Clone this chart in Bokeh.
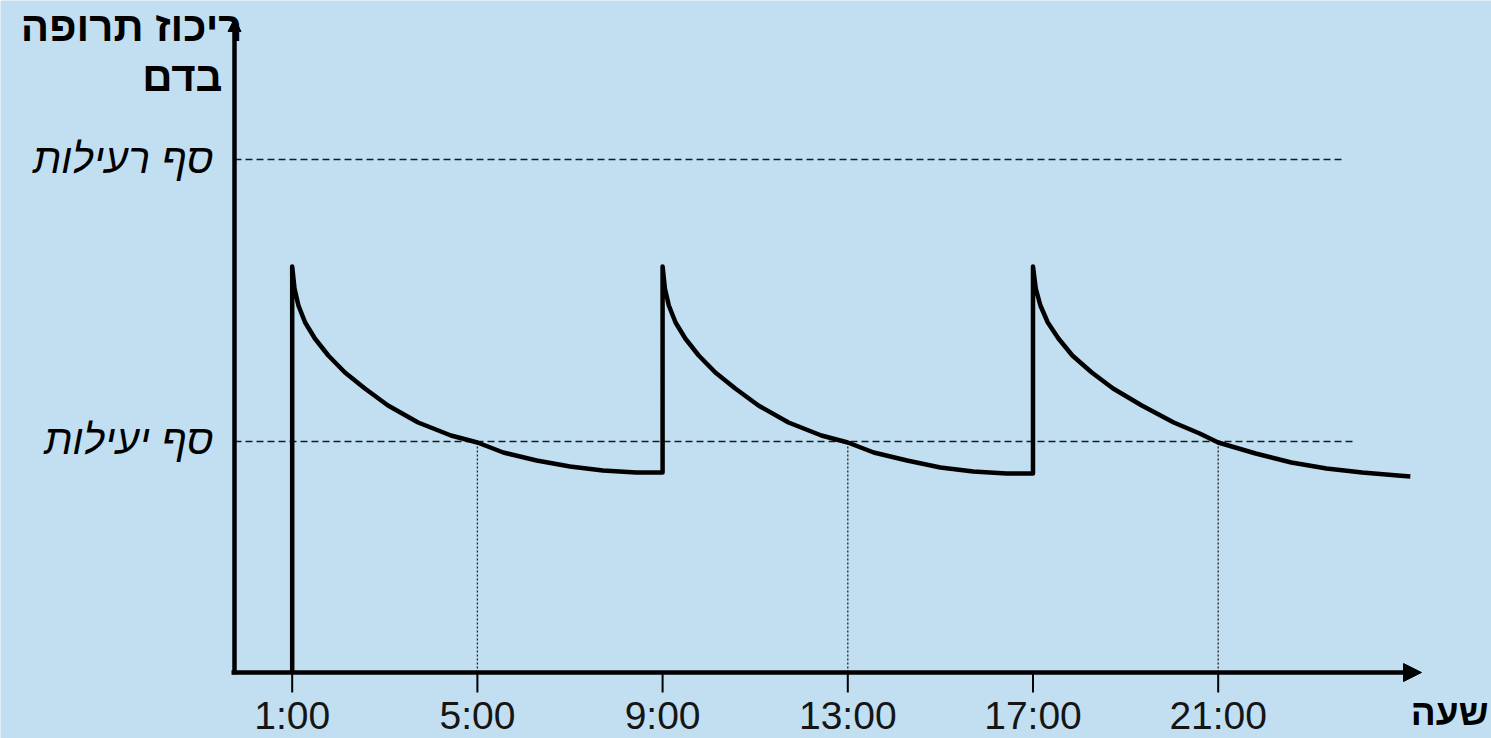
from bokeh.plotting import figure
from bokeh.models import Range1d, Arrow, NormalHead
from bokeh.core.properties import value
from bokeh.embed import file_html
from bokeh.resources import INLINE

# ---------------- data ----------------
tick_hours = [1, 5, 9, 13, 17, 21]
tick_labels = ["1:00", "5:00", "9:00", "13:00", "17:00", "21:00"]
dose_hours = [1, 9, 17]
crossing_hours = [5, 13, 21]
toxic_level = 513
effective_level = 231

hours_after_dose_1 = [0, 0.05, 0.135, 0.28, 0.49, 0.78, 1.14, 1.57, 2.07, 2.72, 3.43, 4.0, 4.56, 5.28, 6.0, 6.71, 7.43, 8.0]
conc_1 = [406, 384, 367, 350, 334, 317, 300, 284, 267, 250, 237, 230, 220, 212, 206, 202, 200, 200]
hours_after_dose_2 = [0, 0.05, 0.135, 0.28, 0.49, 0.78, 1.14, 1.57, 2.07, 2.72, 3.43, 4.0, 4.56, 5.28, 6.0, 6.71, 7.43, 8.0]
conc_2 = [406, 384, 367, 350, 334, 317, 300, 284, 267, 250, 237, 230, 220, 212, 205, 201, 199, 199]
hours_after_dose_3 = [0, 0.06, 0.16, 0.32, 0.55, 0.85, 1.27, 1.73, 2.35, 3.04, 3.6, 4.0, 4.81, 5.58, 6.34, 7.11, 7.88, 8.15]
conc_3 = [406, 384, 367, 350, 334, 317, 300, 284, 267, 250, 239, 230, 219, 210, 204, 200, 197, 196]

y_title = ["ריכוז תרופה", "בדם"]
x_title = "שעה"
threshold_texts = ["סף רעילות", "סף יעילות"]

# ---------------- layout ----------------
W, H = 1491, 738
PX = 46.3                      # pixels per hour
AXIS_X = -0.246                # hour position of the vertical axis
X_LO = AXIS_X - 234 / PX
X_HI = X_LO + W / PX
Y_HI = 672
Y_LO = Y_HI - H
BG = "#C1DFF1"
FONT = "Liberation Sans"


def dx(px):
    return px / PX


p = figure(width=W, height=H, output_backend="svg", toolbar_location=None,
           x_range=Range1d(X_LO, X_HI), y_range=Range1d(Y_LO, Y_HI),
           x_axis_type=None, y_axis_type=None,
           min_border=0, min_border_left=0, min_border_right=0, min_border_top=0, min_border_bottom=0,
           background_fill_color=BG, border_fill_color=BG, outline_line_color=None)
p.grid.visible = False

# threshold dashed lines
p.segment(x0=[AXIS_X, AXIS_X], y0=[toxic_level, effective_level],
          x1=[23.75, 23.92], y1=[toxic_level, effective_level],
          line_color="#1a1a1a", line_width=1.6, line_dash="7 4")

# dotted verticals at crossing times
p.segment(x0=crossing_hours, y0=[0] * len(crossing_hours),
          x1=crossing_hours, y1=[effective_level] * len(crossing_hours),
          line_color="#222222", line_width=1.3, line_dash="2 2")

# concentration curve
xs = [dose_hours[0]]
ys = [0]
for d, hh, cc in zip(dose_hours, [hours_after_dose_1, hours_after_dose_2, hours_after_dose_3],
                     [conc_1, conc_2, conc_3]):
    xs += [d + h for h in hh]
    ys += cc
p.line(xs, ys, line_color="black", line_width=4.5, line_join="round")

# axes
x_tip = AXIS_X + dx(1187)
y_tip = 654
p.segment(x0=[AXIS_X - dx(3), AXIS_X], y0=[0, -2], x1=[x_tip - dx(10), AXIS_X], y1=[0, y_tip - 8],
          line_color="black", line_width=4.5)
p.add_layout(Arrow(end=NormalHead(size=18, fill_color="black", line_color="black", line_width=1),
                   x_start=x_tip - dx(12), x_end=x_tip, y_start=0, y_end=0,
                   line_color="black", line_width=4.5))
p.add_layout(Arrow(end=NormalHead(size=13, fill_color="black", line_color="black", line_width=1),
                   x_start=AXIS_X, x_end=AXIS_X, y_start=y_tip - 12, y_end=y_tip,
                   line_color="black", line_width=4.5))

# ticks
p.segment(x0=tick_hours, y0=[0] * len(tick_hours), x1=tick_hours, y1=[-20] * len(tick_hours),
          line_color="black", line_width=2)
p.text(x=tick_hours, y=[-43] * len(tick_hours), text=tick_labels,
       text_align="center", text_baseline="alphabetic",
       text_font=value(FONT), text_font_size=value("39px"), text_color="#151515")

# axis titles
p.text(x=[AXIS_X + dx(8), AXIS_X - dx(12)], y=[646, 596], text=y_title,
       text_align="right", text_baseline="alphabetic",
       text_font=value(FONT), text_font_size=value("42px"), text_font_style="bold",
       text_color="black")
p.text(x=[X_HI - dx(3)], y=[-40], text=[x_title],
       text_align="right", text_baseline="alphabetic",
       text_font=value(FONT), text_font_size=value("37px"), text_font_style="bold",
       text_color="black")

# threshold labels
p.text(x=[AXIS_X - dx(21)] * 2, y=[toxic_level + 1, effective_level + 2], text=threshold_texts,
       text_align="right", text_baseline="alphabetic",
       text_font=value(FONT), text_font_size=value("41px"), text_font_style="italic",
       text_color="black")

open("out.html", "w").write(file_html(p, INLINE))
